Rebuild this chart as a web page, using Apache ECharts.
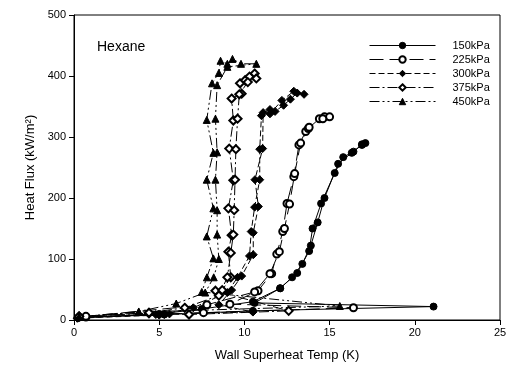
<!DOCTYPE html>
<html>
<head>
<meta charset="utf-8">
<script src="https://cdn.jsdelivr.net/npm/echarts@6/dist/echarts.min.js"></script>
<style>
html,body{margin:0;padding:0;background:#fff;}
#chart{width:511px;height:370px;}
</style>
</head>
<body>
<div id="chart"></div>
<script>
// Data: [wall superheat (K), heat flux (kW/m2)]
var seriesNames = ['150kPa', '225kPa', '300kPa', '375kPa', '450kPa'];

var p150 = [[0.3,4],[5.3,9],[10.5,15],[21.1,22],[10.6,28],[12.1,52],[13.1,77],[13.8,113],[14.0,150],[14.5,191],[15.3,241],[15.8,267],[16.4,276],[16.9,288],[17.1,290],
            [16.9,287],[16.3,274],[15.5,256],[14.7,200],[14.3,160],[13.9,122],[13.4,92],[12.8,70],[12.1,52],[10.5,30],[7.5,18],[5.0,10],[0.3,4]];

var p225 = [[0.7,5],[7.6,12],[16.4,20],[9.15,26],[10.8,48],[11.6,76],[11.9,108],[12.25,145],[12.5,191],[12.9,235],[13.2,287],[13.6,309],[13.75,314],[14.4,330],[14.7,333],[15.0,333],
            [14.6,330],[13.8,316],[13.3,290],[12.95,240],[12.65,190],[12.35,150],[12.05,112],[11.5,76],[10.6,46],[7.8,25],[0.7,6]];

var p300 = [[0.2,3],[4.8,9],[5.3,9],[5.6,10],[10.5,13],[8.5,25],[9.25,49],[9.84,72],[10.52,107],[10.52,143],[10.82,186],[10.62,230],[11.07,281],[11.1,340],[11.5,345],[11.8,342],[12.3,352],[12.7,362],[13.1,372],[13.5,370],
            [12.9,375],[12.2,360],[11.5,338],[11.0,335],[10.9,280],[10.9,230],[10.6,185],[10.4,145],[10.3,105],[9.6,70],[9.0,45],[7.0,20],[5.0,8],[0.2,3]];

var p375 = [[0.3,6],[4.4,11],[6.75,9],[12.6,15],[8.3,48],[8.7,49],[9.2,70],[9.06,112],[9.25,139],[9.06,183],[9.35,229],[9.11,281],[9.35,327],[9.25,363],[9.84,371],[9.74,388],[10.04,393],[10.3,399],[10.6,404],[10.7,396],
            [10.2,390],[9.7,370],[9.6,330],[9.5,280],[9.45,230],[9.4,180],[9.35,140],[9.2,110],[9.0,70],[8.5,40],[6.5,20],[4.4,12],[0.3,6]];

var p450 = [[0.3,5],[3.8,13],[15.6,23],[7.5,46],[7.8,70],[8.18,101],[7.79,137],[8.18,183],[7.79,230],[8.18,274],[7.79,328],[8.1,388],[8.5,405],[8.6,425],[9.0,420],[9.3,428],[9.8,420],[10.7,420],
            [9.0,415],[8.4,385],[8.3,330],[8.4,275],[8.3,230],[8.4,180],[8.4,140],[8.5,100],[8.2,70],[7.7,45],[6.0,27],[3.8,14],[0.3,5]];

var xTicks = {min: 0, max: 25, interval: 5};
var yTicks = {min: 0, max: 500, interval: 100};

var seriesData = [p150, p225, p300, p375, p450];
var symbols = ['circle', 'emptyCircle', 'diamond', 'emptyDiamond', 'triangle'];
var dashes = ['solid', [14, 6], [6, 3], [10, 3, 2, 3], [10, 3, 2, 3, 2, 3]];
var sizes = [7, 7, 8, 8, 7];

var font = 'Liberation Sans, Arial, sans-serif';

var chart = echarts.init(document.getElementById('chart'), null, {renderer: 'canvas'});
var series = seriesData.map(function (d, i) {
  return {
    name: seriesNames[i],
    type: 'line',
    data: d,
    symbol: symbols[i],
    symbolSize: sizes[i],
    showAllSymbol: true,
    animation: false,
    lineStyle: {color: '#000', width: 1, type: dashes[i]},
    itemStyle: {color: '#000', borderColor: '#000', borderWidth: 1}
  };
});

chart.setOption({
  backgroundColor: '#fff',
  animation: false,
  title: {
    text: 'Hexane', left: 92, top: 35,
    textStyle: {fontFamily: font, fontSize: 14, fontWeight: 'normal', color: '#000'}
  },
  legend: {
    orient: 'vertical', left: 364, top: 34,
    itemWidth: 66, itemHeight: 8, itemGap: 1,
    lineStyle: {width: 1},
    itemStyle: {borderWidth: 1},
    textStyle: {fontFamily: font, fontSize: 11, lineHeight: 13, color: '#000', padding: [0, 0, 0, 12]},
    data: seriesNames
  },
  grid: {left: 74, right: 11, top: 15, bottom: 50, show: true, borderColor: '#000', borderWidth: 1},
  xAxis: {
    type: 'value', min: xTicks.min, max: xTicks.max, interval: xTicks.interval,
    name: 'Wall Superheat Temp (K)', nameLocation: 'middle', nameGap: 29,
    nameTextStyle: {fontFamily: font, fontSize: 13, color: '#000'},
    axisLine: {lineStyle: {color: '#000', width: 1}},
    axisTick: {show: true, length: 5, lineStyle: {color: '#000'}},
    axisLabel: {fontFamily: font, fontSize: 11, color: '#000', margin: 7},
    splitLine: {show: false}
  },
  yAxis: {
    type: 'value', min: yTicks.min, max: yTicks.max, interval: yTicks.interval,
    name: 'Heat Flux (kW/m²)', nameLocation: 'middle', nameGap: 37, nameRotate: 90,
    nameTextStyle: {fontFamily: font, fontSize: 13, color: '#000'},
    axisLine: {lineStyle: {color: '#000', width: 1}},
    axisTick: {show: true, length: 5, lineStyle: {color: '#000'}},
    axisLabel: {fontFamily: font, fontSize: 11, color: '#000', margin: 8},
    splitLine: {show: false}
  },
  series: series
});
</script>
</body>
</html>
